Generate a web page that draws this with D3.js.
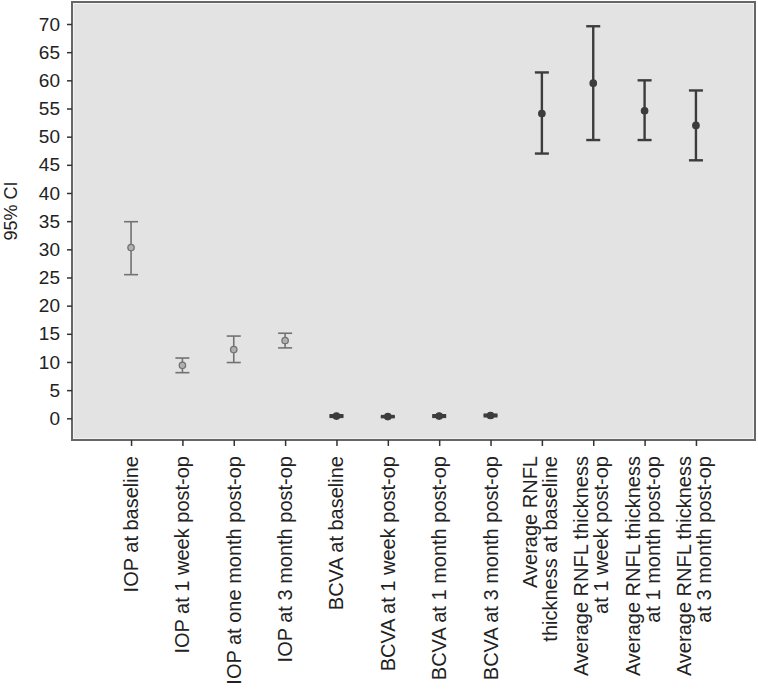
<!DOCTYPE html>
<html>
<head>
<meta charset="utf-8">
<script src="https://cdn.jsdelivr.net/npm/d3@7"></script>
<style>
  body { margin: 0; background: #fff; }
  text { font-family: "Liberation Sans", Arial, sans-serif; fill: #222; }
</style>
</head>
<body>
<svg></svg>
<script>
// categories (two-line labels split with "|")
var labels = [
  "IOP at baseline",
  "IOP at 1 week post-op",
  "IOP at one month post-op",
  "IOP at 3 month post-op",
  "BCVA at baseline",
  "BCVA at 1 week post-op",
  "BCVA at 1 month post-op",
  "BCVA at 3 month post-op",
  "Average RNFL|thickness at baseline",
  "Average RNFL thickness|at 1 week post-op",
  "Average RNFL thickness|at 1 month post-op",
  "Average RNFL thickness|at 3 month post-op"
];
var means = [30.3, 9.4, 12.2, 13.8, 0.4, 0.3, 0.4, 0.5, 54.1, 59.5, 54.6, 52.0];
var lower = [25.5, 8.1, 9.9, 12.5, 0.25, 0.2, 0.25, 0.35, 47.0, 49.4, 49.4, 45.8];
var upper = [34.9, 10.7, 14.6, 15.1, 0.55, 0.4, 0.55, 0.65, 61.4, 69.6, 60.0, 58.2];
var yTicks = [0, 5, 10, 15, 20, 25, 30, 35, 40, 45, 50, 55, 60, 65, 70];

var width = 758;
var height = 689;

var svg = d3.select("svg")
  .attr("width", width)
  .attr("height", height);

var margin = { top: 2, left: 72 };
var plotW = 683;
var plotH = 438;

var g = svg.append("g")
  .attr("transform", "translate(" + margin.left + "," + margin.top + ")");

// plot background and frame
g.append("rect")
  .attr("width", plotW)
  .attr("height", plotH)
  .attr("fill", "#e3e3e3")
  .attr("stroke", "#666")
  .attr("stroke-width", 2);
g.append("rect")
  .attr("x", 1.5)
  .attr("y", 1.5)
  .attr("width", plotW - 3)
  .attr("height", plotH - 3)
  .attr("fill", "none")
  .attr("stroke", "#f2f2f2")
  .attr("stroke-width", 1);

var x = d3.scalePoint()
  .domain(labels)
  .range([0, plotW])
  .padding(1.15);

var y = d3.scaleLinear()
  .domain([0, 70])
  .range([416.3, 22]);

// y axis
var yAxis = g.append("g")
  .call(d3.axisLeft(y).tickValues(yTicks).tickSize(5).tickSizeOuter(0).tickPadding(7));
yAxis.select(".domain").remove();
yAxis.selectAll("line").attr("stroke", "#333").attr("stroke-width", 1.5);
yAxis.selectAll("text")
  .style("font-size", "19px")
  .attr("fill", "#222");

// x axis
var xAxis = g.append("g")
  .attr("transform", "translate(0," + plotH + ")")
  .call(d3.axisBottom(x).tickSize(6).tickSizeOuter(0).tickFormat(""));
xAxis.select(".domain").remove();
xAxis.selectAll("line").attr("stroke", "#333").attr("stroke-width", 1.5);

// rotated category labels
var lab = g.append("g").selectAll("text")
  .data(labels)
  .enter()
  .append("text")
  .attr("transform", function(d) {
    return "translate(" + x(d) + "," + (plotH + 16) + ") rotate(-90)";
  })
  .attr("text-anchor", "end")
  .style("font-size", "20px");

lab.each(function(d) {
  var lines = d.split("|");
  var t = d3.select(this);
  lines.forEach(function(line, i) {
    var off = lines.length == 1 ? 7 : (i == 0 ? -5 : 15);
    t.append("tspan")
      .attr("x", 0)
      .attr("y", off)
      .text(line);
  });
});

// y axis title
svg.append("text")
  .attr("transform", "translate(17,211) rotate(-90)")
  .attr("text-anchor", "middle")
  .style("font-size", "18px")
  .text("95% CI");

// error bars
function barColor(d) {
  return d.indexOf("IOP") == 0 ? "#727272" : "#3c3c3c";
}
function barWidth(d) {
  return d.indexOf("IOP") == 0 ? 1.6 : 2.4;
}

var bars = g.append("g").selectAll("g")
  .data(labels)
  .enter()
  .append("g");

bars.append("line")
  .attr("x1", function(d) { return x(d); })
  .attr("x2", function(d) { return x(d); })
  .attr("y1", function(d, i) { return y(lower[i]); })
  .attr("y2", function(d, i) { return y(upper[i]); })
  .attr("stroke", barColor)
  .attr("stroke-width", barWidth);

[lower, upper].forEach(function(arr) {
  bars.append("line")
    .attr("x1", function(d) { return x(d) - 7; })
    .attr("x2", function(d) { return x(d) + 7; })
    .attr("y1", function(d, i) { return y(arr[i]); })
    .attr("y2", function(d, i) { return y(arr[i]); })
    .attr("stroke", barColor)
    .attr("stroke-width", barWidth);
});

bars.append("circle")
  .attr("cx", function(d) { return x(d); })
  .attr("cy", function(d, i) { return y(means[i]); })
  .attr("r", 3.2)
  .attr("fill", function(d) { return d.indexOf("IOP") == 0 ? "#b0b0b0" : "#3c3c3c"; })
  .attr("stroke", barColor)
  .attr("stroke-width", 1.3);
</script>
</body>
</html>
